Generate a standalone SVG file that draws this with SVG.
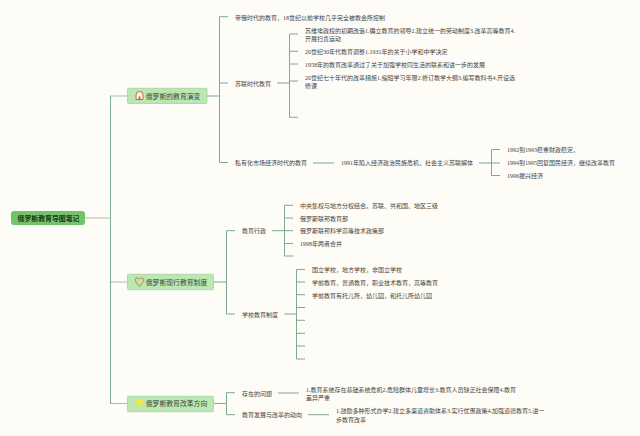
<svg xmlns="http://www.w3.org/2000/svg" width="640" height="436" viewBox="0 0 640 436">
<style>
text{font-family:"Liberation Serif","Noto Sans CJK SC",serif;fill:#444440}
.t{font-size:6px}
.m{font-size:6.85px;fill:#3c4a3c}
.r{font-size:6.9px;font-weight:bold;fill:#1f3a1f}
.b{fill:#bce6b2;stroke:#a3d39e;stroke-width:.8}
.c{fill:none;stroke:#6fa088;stroke-width:.9}
.c2{fill:none;stroke:#9cc4ab;stroke-width:1.1}
</style>
<rect width="640" height="436" fill="#fefcf6"/>
<g id="connectors">
<path class="c2" d="M85 218H110M110 96H127.500M110 282H127.500M110 403.500H127.500"/>
<path class="c" d="M110.500 96V403.500"/>
<path class="c" d="M207 96H219.500M219.500 16.700V162.500M219.500 16.700H228M219.500 83H228M219.500 162.500H228"/>
<path class="c" d="M277 83H289.500M289.500 34V117.300M289.500 34H298M289.500 51.300H298M289.500 64H298M289.500 81H298M289.500 117.300H298"/>
<path class="c" d="M313 163H334M479 163H491.500M491.500 149.500V175.500M491.500 149.500H500M491.500 163H500M491.500 175.500H500"/>
<path class="c" d="M213.500 282H226.500M226.500 230.700V314M226.500 230.700H235M226.500 314H235"/>
<path class="c" d="M272 230.700H284.500M284.500 205.300V256M284.500 205.300H293M284.500 218H293M284.500 230.700H293M284.500 243.500H293M284.500 256H293"/>
<path class="c" d="M284.500 314H296.500M296.500 269.500V359M296.500 269.500H305M296.500 282H305M296.500 294.700H305M296.500 307.500H305M296.500 320.300H305M296.500 333.300H305M296.500 346H305M296.500 359H305"/>
<path class="c" d="M213.500 403.500H226.500M226.500 392.700V414.700M226.500 392.700H235M226.500 414.700H235"/>
<path class="c" d="M278 393H299M308 414.700H329"/>
</g>
<g id="root"><rect x="11" y="211" width="74" height="14" rx="3" fill="#72c46a"/><text class="r" x="17.500" y="220.500">俄罗斯教育导图笔记</text></g>
<g id="n1"><rect class="b" x="127.500" y="88.300" width="79.500" height="15.200" rx="1"/>
<path d="M136 99.500V95A3.500 3.500 0 0 1 143 95V99.500Z" fill="#fdf3e6" stroke="#c8443a" stroke-width=".8"/><rect x="138.700" y="96.500" width="1.600" height="3" fill="#c8443a"/>
<text class="m" x="145.700" y="98.700">俄罗斯的教育演变</text></g>
<g id="n2"><rect class="b" x="127.500" y="274.300" width="86" height="15.400" rx="1"/>
<path d="M139.500 286.500L135.800 281.800C134.500 279.500 135.500 278 137.300 278C138.300 278 139 278.500 139.500 279.300C140 278.500 140.700 278 141.700 278C143.500 278 144.500 279.500 143.200 281.800Z" fill="none" stroke="#b5793f" stroke-width=".9"/>
<text class="m" x="145.700" y="284.700">俄罗斯现行教育制度</text></g>
<g id="n3"><rect class="b" x="127.500" y="396.300" width="86" height="15.400" rx="1"/>
<path d="M139.500 408L135.800 403.300C134.500 401 135.500 399.500 137.300 399.500C138.300 399.500 139 400 139.500 400.800C140 400 140.700 399.500 141.700 399.500C143.500 399.500 144.500 401 143.200 403.300Z" fill="#ece94f"/>
<text class="m" x="145.700" y="406.200">俄罗斯教育改革方向</text></g>
<g id="a1"><text class="t" x="235" y="19.700">帝俄时代的教育，18世纪以前学校几乎完全被教会所控制</text></g>
<g id="a2"><text class="t" x="235" y="85.700">苏联时代教育</text></g>
<g id="a2-1"><text class="t" x="305" y="32.500">苏维埃政权的初期改造1.确立教育的领导2.建立统一的劳动制度3.改革高等教育4.</text><text class="t" x="305" y="41">开展扫盲运动</text></g>
<g id="a2-2"><text class="t" x="305" y="54">20世纪30年代教育调整1.1931年的关于小学和中学决定</text></g>
<g id="a2-3"><text class="t" x="305" y="66.700">1958年的教育改革通过了关于加强学校同生活的联系和进一步的发展</text></g>
<g id="a2-4"><text class="t" x="305" y="79.500">20世纪七十年代的改革措施1.缩短学习年限2.修订教学大纲3.编写教科书4.开设选</text><text class="t" x="305" y="88">修课</text></g>
<g id="a3"><text class="t" x="235" y="165.200">私有化市场经济时代的教育</text></g>
<g id="a3-1"><text class="t" x="341" y="165.200">1991年陷入经济政治民族危机，社会主义苏联解体</text></g>
<g id="a3-2"><text class="t" x="507" y="152.200">1992到1993稳重财政稳定，</text></g>
<g id="a3-3"><text class="t" x="507" y="165.200">1994到1995回复国民经济，继续改革教育</text></g>
<g id="a3-4"><text class="t" x="507" y="177.700">1996振兴经济</text></g>
<g id="b1"><text class="t" x="242" y="233.200">教育行政</text></g>
<g id="b1-1"><text class="t" x="300" y="207.700">中央集权与地方分权结合。苏联、共和国、地区三级</text></g>
<g id="b1-2"><text class="t" x="300" y="220.500">俄罗斯联邦教育部</text></g>
<g id="b1-3"><text class="t" x="300" y="233.200">俄罗斯联邦科学高等技术政策部</text></g>
<g id="b1-4"><text class="t" x="300" y="246">1998年两者合并</text></g>
<g id="b2"><text class="t" x="242" y="316.700">学校教育制度</text></g>
<g id="b2-1"><text class="t" x="312" y="272.200">国立学校，地方学校，非国立学校</text></g>
<g id="b2-2"><text class="t" x="312" y="284.700">学前教育，普通教育，职业技术教育，高等教育</text></g>
<g id="b2-3"><text class="t" x="312" y="297.500">学前教育有托儿所，幼儿园，和托儿所幼儿园</text></g>
<g id="c1"><text class="t" x="242" y="395.700">存在的问题</text></g>
<g id="c1-1"><text class="t" x="306" y="391.700">1.教育系统存在基础系统危机2.危险群体儿童增长3.教育人员缺乏社会保障4.教育</text><text class="t" x="306" y="400.300">差异严重</text></g>
<g id="c2"><text class="t" x="242" y="417.200">教育发展与改革的动向</text></g>
<g id="c2-1"><text class="t" x="336" y="413">1.鼓励多种形式办学2.建立多渠道资助体系3.实行优惠政策4.加强道德教育5.进一</text><text class="t" x="336" y="421.600">步教育改革</text></g>
</svg>
